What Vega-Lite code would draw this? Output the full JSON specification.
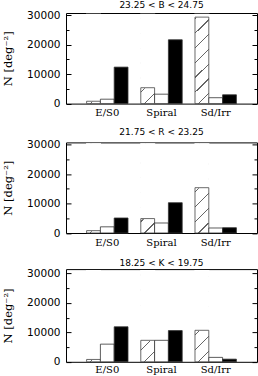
{
  "$schema": "https://vega.github.io/schema/vega-lite/v6.json",
  "padding": {"left": 2, "top": 0, "right": 1, "bottom": 0},
  "background": "white",
  "data": {"values": [
    {"band": "B", "type": "E/S0", "series": "h", "N": 800},
    {"band": "B", "type": "E/S0", "series": "o", "N": 1500},
    {"band": "B", "type": "E/S0", "series": "f", "N": 12400},
    {"band": "B", "type": "Spiral", "series": "h", "N": 5400},
    {"band": "B", "type": "Spiral", "series": "o", "N": 3200},
    {"band": "B", "type": "Spiral", "series": "f", "N": 21700},
    {"band": "B", "type": "Sd/Irr", "series": "h", "N": 29400},
    {"band": "B", "type": "Sd/Irr", "series": "o", "N": 2000},
    {"band": "B", "type": "Sd/Irr", "series": "f", "N": 3000},
    {"band": "R", "type": "E/S0", "series": "h", "N": 800},
    {"band": "R", "type": "E/S0", "series": "o", "N": 2100},
    {"band": "R", "type": "E/S0", "series": "f", "N": 5100},
    {"band": "R", "type": "Spiral", "series": "h", "N": 4900},
    {"band": "R", "type": "Spiral", "series": "o", "N": 3400},
    {"band": "R", "type": "Spiral", "series": "f", "N": 10300},
    {"band": "R", "type": "Sd/Irr", "series": "h", "N": 15400},
    {"band": "R", "type": "Sd/Irr", "series": "o", "N": 1700},
    {"band": "R", "type": "Sd/Irr", "series": "f", "N": 1800},
    {"band": "K", "type": "E/S0", "series": "h", "N": 800},
    {"band": "K", "type": "E/S0", "series": "o", "N": 6000},
    {"band": "K", "type": "E/S0", "series": "f", "N": 11900},
    {"band": "K", "type": "Spiral", "series": "h", "N": 7300},
    {"band": "K", "type": "Spiral", "series": "o", "N": 7300},
    {"band": "K", "type": "Spiral", "series": "f", "N": 10600},
    {"band": "K", "type": "Sd/Irr", "series": "h", "N": 10700},
    {"band": "K", "type": "Sd/Irr", "series": "o", "N": 1500},
    {"band": "K", "type": "Sd/Irr", "series": "f", "N": 900}
  ]},
  "bounds": "flush",
  "spacing": 38.4,
  "vconcat": [
    {
      "width": 191, "height": 90.6,
      "title": {"text": "23.25  <  B  <  24.75", "offset": 0},
      "transform": [{"filter": "datum.band == 'B'"}],
      "encoding": {
        "x": {"field": "type", "type": "nominal", "sort": ["E/S0", "Spiral", "Sd/Irr"], "scale": {"paddingInner": 0.236, "paddingOuter": 0.38},
              "axis": {"orient": "bottom", "ticks": false, "domain": false, "labelAngle": 0, "labelFont": "DejaVu Serif", "labelFontSize": 10, "labelColor": "black", "labelPadding": 4, "title": null}},
        "xOffset": {"field": "series", "type": "nominal", "sort": ["h", "o", "f"], "scale": {"paddingInner": 0, "paddingOuter": 0}}
      },
      "layer": [
        {"transform": [{"filter": "datum.series == 'h'"}],
         "mark": {"type": "bar", "fill": {"gradient": "linear", "x1": 0, "y1": 0, "x2": 0.1715, "y2": 1.126, "stops": [
           {"offset": 0, "color": "white"},
           {"offset": 0.033, "color": "white"}, {"offset": 0.033, "color": "#666"}, {"offset": 0.046, "color": "#666"}, {"offset": 0.046, "color": "white"},
           {"offset": 0.1767, "color": "white"}, {"offset": 0.1767, "color": "#666"}, {"offset": 0.1897, "color": "#666"}, {"offset": 0.1897, "color": "white"},
           {"offset": 0.3204, "color": "white"}, {"offset": 0.3204, "color": "#666"}, {"offset": 0.3334, "color": "#666"}, {"offset": 0.3334, "color": "white"},
           {"offset": 0.4641, "color": "white"}, {"offset": 0.4641, "color": "#666"}, {"offset": 0.4771, "color": "#666"}, {"offset": 0.4771, "color": "white"},
           {"offset": 0.6078, "color": "white"}, {"offset": 0.6078, "color": "#666"}, {"offset": 0.6208, "color": "#666"}, {"offset": 0.6208, "color": "white"},
           {"offset": 0.7515, "color": "white"}, {"offset": 0.7515, "color": "#666"}, {"offset": 0.7645, "color": "#666"}, {"offset": 0.7645, "color": "white"},
           {"offset": 0.8952, "color": "white"}, {"offset": 0.8952, "color": "#666"}, {"offset": 0.9082, "color": "#666"}, {"offset": 0.9082, "color": "white"},
           {"offset": 1, "color": "white"}]}},
         "encoding": {
           "y": {"datum": 30300, "type": "quantitative", "scale": {"domain": [0, 30800], "nice": false},
                 "axis": {"orient": "left", "values": [0, 10000, 20000, 30000], "tickSize": -5, "tickColor": "black", "domain": false, "grid": false, "labelFont": "DejaVu Sans", "labelFontSize": 10.5, "labelColor": "black", "labelPadding": 11, "labelFlush": false, "format": "d",
                          "title": "N  [deg⁻²]", "titleFont": "DejaVu Serif", "titleFontSize": 11.5, "titleFontWeight": "normal", "titleColor": "black", "titlePadding": 13}},
           "y2": {"datum": 0}
         }},
        {"transform": [{"filter": "datum.series == 'h'"}],
         "mark": {"type": "bar", "fill": "white", "stroke": "white", "strokeWidth": 1.2},
         "encoding": {
           "y": {"field": "N", "type": "quantitative", "scale": {"domain": [0, 30800], "nice": false},
                 "axis": {"orient": "left", "values": [5000, 15000, 25000], "tickSize": -3, "tickColor": "black", "labels": false, "domain": false, "grid": false, "title": null}},
           "y2": {"datum": 30300}
         }},
        {"transform": [{"filter": "datum.series == 'h'"}],
         "mark": {"type": "bar", "fill": "transparent", "stroke": "#444", "strokeWidth": 0.8},
         "encoding": {
           "y": {"field": "N", "type": "quantitative", "scale": {"domain": [0, 30800], "nice": false},
                 "axis": {"orient": "right", "values": [0, 10000, 20000, 30000], "tickSize": -5, "tickColor": "black", "labels": false, "domain": false, "grid": false, "title": null}}
         }},
        {"transform": [{"filter": "datum.series != 'h'"}],
         "mark": {"type": "bar", "stroke": "#333", "strokeWidth": 0.8},
         "encoding": {
           "y": {"field": "N", "type": "quantitative", "scale": {"domain": [0, 30800], "nice": false},
                 "axis": {"orient": "right", "values": [5000, 15000, 25000], "tickSize": -3, "tickColor": "black", "labels": false, "domain": false, "grid": false, "title": null}},
           "fill": {"field": "series", "type": "nominal", "scale": {"domain": ["o", "f"], "range": ["white", "black"]}, "legend": null}
         }}
      ],
      "resolve": {"axis": {"y": "independent"}}
    },
    {
      "bounds": "flush",
      "spacing": 35.7,
      "vconcat": [
        {
          "width": 191, "height": 90.6,
          "title": {"text": "21.75  <  R  <  23.25", "offset": 3},
          "transform": [{"filter": "datum.band == 'R'"}],
          "encoding": {
            "x": {"field": "type", "type": "nominal", "sort": ["E/S0", "Spiral", "Sd/Irr"], "scale": {"paddingInner": 0.236, "paddingOuter": 0.38},
                  "axis": {"orient": "bottom", "ticks": false, "domain": false, "labelAngle": 0, "labelFont": "DejaVu Serif", "labelFontSize": 10, "labelColor": "black", "labelPadding": 4, "title": null}},
            "xOffset": {"field": "series", "type": "nominal", "sort": ["h", "o", "f"], "scale": {"paddingInner": 0, "paddingOuter": 0}}
          },
          "layer": [
            {"transform": [{"filter": "datum.series == 'h'"}],
             "mark": {"type": "bar", "fill": {"gradient": "linear", "x1": 0, "y1": 0, "x2": 0.1715, "y2": 1.126, "stops": [
               {"offset": 0, "color": "white"},
               {"offset": 0.033, "color": "white"}, {"offset": 0.033, "color": "#666"}, {"offset": 0.046, "color": "#666"}, {"offset": 0.046, "color": "white"},
               {"offset": 0.1767, "color": "white"}, {"offset": 0.1767, "color": "#666"}, {"offset": 0.1897, "color": "#666"}, {"offset": 0.1897, "color": "white"},
               {"offset": 0.3204, "color": "white"}, {"offset": 0.3204, "color": "#666"}, {"offset": 0.3334, "color": "#666"}, {"offset": 0.3334, "color": "white"},
               {"offset": 0.4641, "color": "white"}, {"offset": 0.4641, "color": "#666"}, {"offset": 0.4771, "color": "#666"}, {"offset": 0.4771, "color": "white"},
               {"offset": 0.6078, "color": "white"}, {"offset": 0.6078, "color": "#666"}, {"offset": 0.6208, "color": "#666"}, {"offset": 0.6208, "color": "white"},
               {"offset": 0.7515, "color": "white"}, {"offset": 0.7515, "color": "#666"}, {"offset": 0.7645, "color": "#666"}, {"offset": 0.7645, "color": "white"},
               {"offset": 0.8952, "color": "white"}, {"offset": 0.8952, "color": "#666"}, {"offset": 0.9082, "color": "#666"}, {"offset": 0.9082, "color": "white"},
               {"offset": 1, "color": "white"}]}},
             "encoding": {
               "y": {"datum": 30300, "type": "quantitative", "scale": {"domain": [0, 30800], "nice": false},
                     "axis": {"orient": "left", "values": [0, 10000, 20000, 30000], "tickSize": -5, "tickColor": "black", "domain": false, "grid": false, "labelFont": "DejaVu Sans", "labelFontSize": 10.5, "labelColor": "black", "labelPadding": 11, "labelFlush": false, "format": "d",
                              "title": "N  [deg⁻²]", "titleFont": "DejaVu Serif", "titleFontSize": 11.5, "titleFontWeight": "normal", "titleColor": "black", "titlePadding": 13}},
               "y2": {"datum": 0}
             }},
            {"transform": [{"filter": "datum.series == 'h'"}],
             "mark": {"type": "bar", "fill": "white", "stroke": "white", "strokeWidth": 1.2},
             "encoding": {
               "y": {"field": "N", "type": "quantitative", "scale": {"domain": [0, 30800], "nice": false},
                     "axis": {"orient": "left", "values": [5000, 15000, 25000], "tickSize": -3, "tickColor": "black", "labels": false, "domain": false, "grid": false, "title": null}},
               "y2": {"datum": 30300}
             }},
            {"transform": [{"filter": "datum.series == 'h'"}],
             "mark": {"type": "bar", "fill": "transparent", "stroke": "#444", "strokeWidth": 0.8},
             "encoding": {
               "y": {"field": "N", "type": "quantitative", "scale": {"domain": [0, 30800], "nice": false},
                     "axis": {"orient": "right", "values": [0, 10000, 20000, 30000], "tickSize": -5, "tickColor": "black", "labels": false, "domain": false, "grid": false, "title": null}}
             }},
            {"transform": [{"filter": "datum.series != 'h'"}],
             "mark": {"type": "bar", "stroke": "#333", "strokeWidth": 0.8},
             "encoding": {
               "y": {"field": "N", "type": "quantitative", "scale": {"domain": [0, 30800], "nice": false},
                     "axis": {"orient": "right", "values": [5000, 15000, 25000], "tickSize": -3, "tickColor": "black", "labels": false, "domain": false, "grid": false, "title": null}},
               "fill": {"field": "series", "type": "nominal", "scale": {"domain": ["o", "f"], "range": ["white", "black"]}, "legend": null}
             }}
          ],
          "resolve": {"axis": {"y": "independent"}}
        },
        {
          "width": 191, "height": 92.7,
          "title": {"text": "18.25  <  K  <  19.75", "offset": 1},
          "transform": [{"filter": "datum.band == 'K'"}],
          "encoding": {
            "x": {"field": "type", "type": "nominal", "sort": ["E/S0", "Spiral", "Sd/Irr"], "scale": {"paddingInner": 0.236, "paddingOuter": 0.38},
                  "axis": {"orient": "bottom", "ticks": false, "domain": false, "labelAngle": 0, "labelFont": "DejaVu Serif", "labelFontSize": 10, "labelColor": "black", "labelPadding": 3, "title": null}},
            "xOffset": {"field": "series", "type": "nominal", "sort": ["h", "o", "f"], "scale": {"paddingInner": 0, "paddingOuter": 0}}
          },
          "layer": [
            {"transform": [{"filter": "datum.series == 'h'"}],
             "mark": {"type": "bar", "fill": {"gradient": "linear", "x1": 0, "y1": 0, "x2": 0.1715, "y2": 1.126, "stops": [
               {"offset": 0, "color": "white"},
               {"offset": 0.033, "color": "white"}, {"offset": 0.033, "color": "#666"}, {"offset": 0.046, "color": "#666"}, {"offset": 0.046, "color": "white"},
               {"offset": 0.1767, "color": "white"}, {"offset": 0.1767, "color": "#666"}, {"offset": 0.1897, "color": "#666"}, {"offset": 0.1897, "color": "white"},
               {"offset": 0.3204, "color": "white"}, {"offset": 0.3204, "color": "#666"}, {"offset": 0.3334, "color": "#666"}, {"offset": 0.3334, "color": "white"},
               {"offset": 0.4641, "color": "white"}, {"offset": 0.4641, "color": "#666"}, {"offset": 0.4771, "color": "#666"}, {"offset": 0.4771, "color": "white"},
               {"offset": 0.6078, "color": "white"}, {"offset": 0.6078, "color": "#666"}, {"offset": 0.6208, "color": "#666"}, {"offset": 0.6208, "color": "white"},
               {"offset": 0.7515, "color": "white"}, {"offset": 0.7515, "color": "#666"}, {"offset": 0.7645, "color": "#666"}, {"offset": 0.7645, "color": "white"},
               {"offset": 0.8952, "color": "white"}, {"offset": 0.8952, "color": "#666"}, {"offset": 0.9082, "color": "#666"}, {"offset": 0.9082, "color": "white"},
               {"offset": 1, "color": "white"}]}},
             "encoding": {
               "y": {"datum": 31000, "type": "quantitative", "scale": {"domain": [0, 31500], "nice": false},
                     "axis": {"orient": "left", "values": [0, 10000, 20000, 30000], "tickSize": -5, "tickColor": "black", "domain": false, "grid": false, "labelFont": "DejaVu Sans", "labelFontSize": 10.5, "labelColor": "black", "labelPadding": 11, "labelFlush": false, "format": "d",
                              "title": "N  [deg⁻²]", "titleFont": "DejaVu Serif", "titleFontSize": 11.5, "titleFontWeight": "normal", "titleColor": "black", "titlePadding": 13}},
               "y2": {"datum": 0}
             }},
            {"transform": [{"filter": "datum.series == 'h'"}],
             "mark": {"type": "bar", "fill": "white", "stroke": "white", "strokeWidth": 1.2},
             "encoding": {
               "y": {"field": "N", "type": "quantitative", "scale": {"domain": [0, 31500], "nice": false},
                     "axis": {"orient": "left", "values": [5000, 15000, 25000], "tickSize": -3, "tickColor": "black", "labels": false, "domain": false, "grid": false, "title": null}},
               "y2": {"datum": 31000}
             }},
            {"transform": [{"filter": "datum.series == 'h'"}],
             "mark": {"type": "bar", "fill": "transparent", "stroke": "#444", "strokeWidth": 0.8},
             "encoding": {
               "y": {"field": "N", "type": "quantitative", "scale": {"domain": [0, 31500], "nice": false},
                     "axis": {"orient": "right", "values": [0, 10000, 20000, 30000], "tickSize": -5, "tickColor": "black", "labels": false, "domain": false, "grid": false, "title": null}}
             }},
            {"transform": [{"filter": "datum.series != 'h'"}],
             "mark": {"type": "bar", "stroke": "#333", "strokeWidth": 0.8},
             "encoding": {
               "y": {"field": "N", "type": "quantitative", "scale": {"domain": [0, 31500], "nice": false},
                     "axis": {"orient": "right", "values": [5000, 15000, 25000], "tickSize": -3, "tickColor": "black", "labels": false, "domain": false, "grid": false, "title": null}},
               "fill": {"field": "series", "type": "nominal", "scale": {"domain": ["o", "f"], "range": ["white", "black"]}, "legend": null}
             }}
          ],
          "resolve": {"axis": {"y": "independent"}}
        }
      ]
    }
  ],
  "config": {
    "view": {"stroke": "black", "strokeWidth": 1},
    "title": {"font": "DejaVu Sans", "fontSize": 9, "fontWeight": "normal", "color": "black", "frame": "group", "anchor": "middle"},
    "axis": {"grid": false}
  }
}
